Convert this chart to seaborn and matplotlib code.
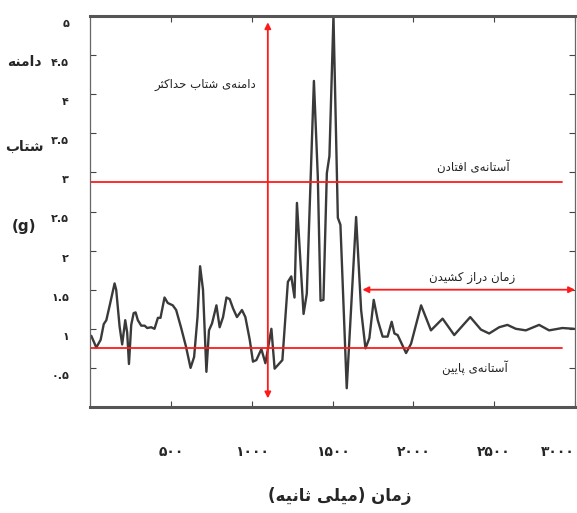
import numpy as np
import matplotlib
matplotlib.use('Agg')
import matplotlib.pyplot as plt
from matplotlib.transforms import ScaledTranslation
import seaborn as sns

sns.set_style('white')
plt.rcParams['font.family'] = ['DejaVu Sans']

# acceleration amplitude (g) against time (ms)
t_ms = [8, 39, 66, 85, 101, 122, 152, 162, 183, 199, 218, 230, 241, 255, 270, 282,
        296, 317, 338, 354, 378, 399, 420, 436, 461, 481, 512, 533, 564, 594, 622,
        644, 665, 681, 699, 720, 736, 755, 782, 802, 823, 844, 864, 885, 909, 940,
        961, 988, 1008, 1029, 1060, 1085, 1122, 1142, 1190, 1224, 1245, 1265, 1280,
        1321, 1341, 1385, 1409, 1426, 1444, 1465, 1481, 1506, 1533, 1549, 1588,
        1646, 1677, 1704, 1728, 1755, 1780, 1810, 1841, 1866, 1883, 1903, 1955,
        1986, 2048, 2109, 2181, 2253, 2352, 2418, 2469, 2531, 2582, 2634, 2696,
        2778, 2840, 2922, 2994]
accel = [0.91, 0.76, 0.86, 1.06, 1.11, 1.30, 1.58, 1.50, 1.03, 0.80, 1.11, 0.95,
         0.55, 1.05, 1.20, 1.21, 1.11, 1.04, 1.04, 1.01, 1.02, 1.00, 1.14, 1.14,
         1.40, 1.33, 1.30, 1.24, 1.01, 0.77, 0.50, 0.64, 1.15, 1.80, 1.50, 0.45,
         0.98, 1.07, 1.30, 1.02, 1.15, 1.40, 1.38, 1.26, 1.15, 1.24, 1.15, 0.86,
         0.58, 0.60, 0.74, 0.56, 1.00, 0.49, 0.60, 1.60, 1.67, 1.40, 2.61, 1.19,
         1.45, 4.17, 2.95, 1.36, 1.37, 2.99, 3.21, 5.00, 2.42, 2.33, 0.24, 2.43,
         1.24, 0.75, 0.88, 1.37, 1.11, 0.90, 0.90, 1.09, 0.94, 0.92, 0.69, 0.81,
         1.30, 0.98, 1.13, 0.92, 1.15, 0.99, 0.94, 1.02, 1.05, 1.00, 0.98, 1.05,
         0.98, 1.01, 1.00]

upper_thr = 2.88
lower_thr = 0.75
thr_end = 2920
peak_time = 1100
peak_span = (0.11, 4.92)
lie_span = (1685, 3000)
lie_level = 1.5

x_ticks = [500, 1000, 1500, 2000, 2500, 3000]
y_ticks = [0.5, 1, 1.5, 2, 2.5, 3, 3.5, 4, 4.5, 5]

# simple Persian shaping: contextual forms + visual (LTR) order
FORMS = {
    'ا': ('\uFE8D', '\uFE8E', None, None), 'آ': ('\uFE81', '\uFE82', None, None),
    'ب': ('\uFE8F', '\uFE90', '\uFE91', '\uFE92'), 'پ': ('\uFB56', '\uFB57', '\uFB58', '\uFB59'),
    'ت': ('\uFE95', '\uFE96', '\uFE97', '\uFE98'), 'ث': ('\uFE99', '\uFE9A', '\uFE9B', '\uFE9C'),
    'ح': ('\uFEA1', '\uFEA2', '\uFEA3', '\uFEA4'), 'د': ('\uFEA9', '\uFEAA', None, None),
    'ر': ('\uFEAD', '\uFEAE', None, None), 'ز': ('\uFEAF', '\uFEB0', None, None),
    'س': ('\uFEB1', '\uFEB2', '\uFEB3', '\uFEB4'), 'ش': ('\uFEB5', '\uFEB6', '\uFEB7', '\uFEB8'),
    'ف': ('\uFED1', '\uFED2', '\uFED3', '\uFED4'), 'ک': ('\uFB8E', '\uFB8F', '\uFB90', '\uFB91'),
    'ل': ('\uFEDD', '\uFEDE', '\uFEDF', '\uFEE0'), 'م': ('\uFEE1', '\uFEE2', '\uFEE3', '\uFEE4'),
    'ن': ('\uFEE5', '\uFEE6', '\uFEE7', '\uFEE8'), 'ه': ('\uFEE9', '\uFEEA', '\uFEEB', '\uFEEC'),
    'ی': ('\uFBFC', '\uFBFD', '\uFBFE', '\uFBFF'),
}


def fa(s):
    out = []
    for i, c in enumerate(s):
        if c not in FORMS:
            if c != '\u200c':
                out.append(c)
            continue
        prev = s[i - 1] if i > 0 else ''
        nxt = s[i + 1] if i + 1 < len(s) else ''
        jp = prev in FORMS and FORMS[prev][2] is not None
        jn = FORMS[c][2] is not None and nxt in FORMS
        iso, fin, ini, med = FORMS[c]
        if jp and jn:
            out.append(med)
        elif jp:
            out.append(fin)
        elif jn:
            out.append(ini)
        else:
            out.append(iso)
    vis = ''.join(reversed(out))
    return vis.translate(str.maketrans('()', ')('))


def fa_num(v):
    s = ('%g' % v)
    return s.translate(str.maketrans('0123456789', '۰۱۲۳۴۵۶۷۸۹'))


fig = plt.figure(figsize=(5.77, 5.13), dpi=100)
ax = fig.add_axes([90 / 577, 1 - 407 / 513, 485 / 577, 391 / 513])

sns.lineplot(x=t_ms, y=accel, ax=ax, color='#3a3a3a', lw=1.7, sort=False)

red = '#ff1a1a'
ax.plot([0, thr_end], [upper_thr, upper_thr], color=red, lw=1.3)
ax.plot([0, thr_end], [lower_thr, lower_thr], color=red, lw=1.3)
ax.annotate('', xy=(peak_time, peak_span[1]), xytext=(peak_time, peak_span[0]),
            arrowprops=dict(arrowstyle='<|-|>', color=red, lw=1.3,
                            mutation_scale=9, shrinkA=0, shrinkB=0))
ax.annotate('', xy=(lie_span[1], lie_level), xytext=(lie_span[0], lie_level),
            arrowprops=dict(arrowstyle='<|-|>', color=red, lw=1.3,
                            mutation_scale=9, shrinkA=0, shrinkB=0))

note = dict(ha='center', va='center', fontsize=8.5, color='#222')
ax.text(716, 4.12, fa('دامنه‌ی شتاب حداکثر'), **note)
ax.text(2370, 3.07, fa('آستانه‌ی افتادن'), **note)
ax.text(2364, 1.66, fa('زمان دراز کشیدن'), **note)
ax.text(2383, 0.51, fa('آستانه‌ی پایین'), **note)

ax.set_xlim(0, 3000)
ax.set_ylim(0, 5)
ax.set_xticks(x_ticks)
ax.set_xticklabels([fa_num(v) for v in x_ticks], fontsize=10, fontweight='bold')
ax.get_xticklabels()[-1].set_ha('right')
ax.set_yticks(y_ticks)
ax.set_yticklabels([fa_num(v) for v in y_ticks], fontsize=8, fontweight='bold')
ax.tick_params(axis='both', direction='in', length=4, color='#444',
               top=True, right=True, bottom=True, left=True)
ax.tick_params(axis='x', pad=27)
ax.tick_params(axis='y', pad=15)
for lab in ax.get_yticklabels():
    lab.set_transform(lab.get_transform() + ScaledTranslation(0, -5 / 72, fig.dpi_scale_trans))

for side in ['top', 'bottom']:
    ax.spines[side].set_linewidth(2.2)
    ax.spines[side].set_color('#555')
for side in ['left', 'right']:
    ax.spines[side].set_linewidth(0.9)
    ax.spines[side].set_color('#666')

ax.set_xlabel(fa('زمان (میلی ثانیه)'), fontsize=12, fontweight='bold')
ax.xaxis.set_label_coords((340 - 90) / 485, -(496 - 407) / 391)
ax.xaxis.label.set_va('center')

side_lab = dict(ha='center', va='center', fontsize=10, fontweight='bold')
fig.text(24 / 577, 1 - 62 / 513, fa('دامنه'), **side_lab)
fig.text(24 / 577, 1 - 147 / 513, fa('شتاب'), **side_lab)
fig.text(24 / 577, 1 - 227 / 513, '(g)', fontsize=11, ha='center', va='center', fontweight='bold')

fig.savefig('out.png', dpi=100)
